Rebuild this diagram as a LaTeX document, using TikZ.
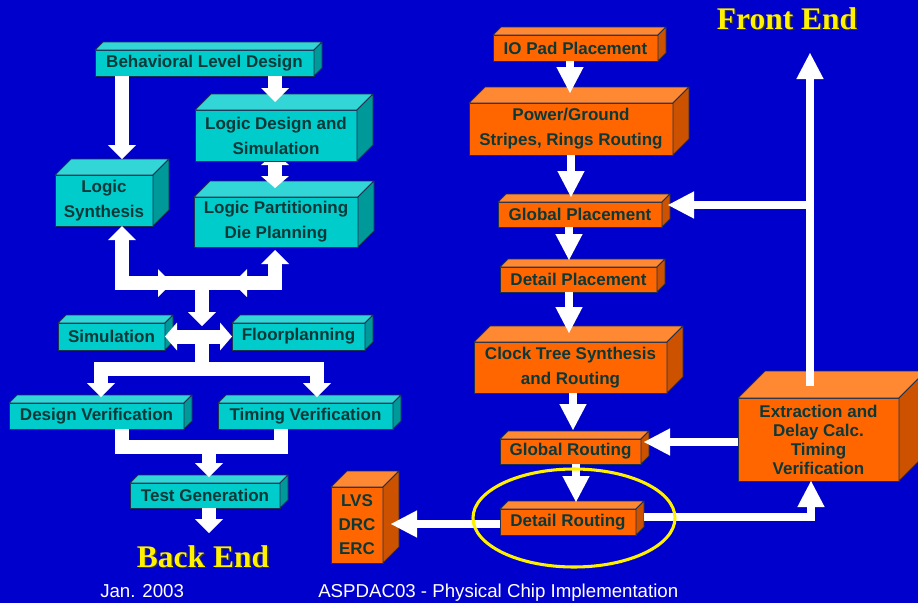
\documentclass[tikz,border=0pt]{standalone}
\usepackage{fontspec}
\setmainfont{Liberation Sans}
\newfontfamily\timesbf{Liberation Serif}
\usetikzlibrary{arrows.meta}
\definecolor{bg}{HTML}{0000CC}
\definecolor{cfront}{HTML}{00CCCC}
\definecolor{ctop}{HTML}{33D6D6}
\definecolor{cside}{HTML}{009999}
\definecolor{ofront}{HTML}{FF6600}
\definecolor{otop}{HTML}{FF8833}
\definecolor{oside}{HTML}{CC5200}
\definecolor{boxtext}{HTML}{0C3838}
\definecolor{edge}{HTML}{1E3050}
\tikzset{
  boxnode/.style={draw=edge, line width=0.6pt, inner sep=0pt, outer sep=0pt, align=center,
    text=boxtext, font=\bfseries\fontsize{12.75}{18.75}\selectfont},
  face/.style={draw=edge, line width=0.6pt, line join=round},
  lline/.style={draw=white, line width=10.5pt, line join=miter},
  larr/.style={lline, -{Triangle[width=21pt,length=10.5pt,line width=0pt]}},
  ldarr/.style={lline, {Triangle[width=21pt,length=9pt,line width=0pt]}-{Triangle[width=21pt,length=9pt,line width=0pt]}},
  rarr/.style={draw=white, line width=5.6pt, line join=miter, -{Triangle[width=20.5pt,length=19.5pt,line width=0pt]}},
  title/.style={font=\timesbf\bfseries\fontsize{23.6}{28}\selectfont, anchor=base},
  foot/.style={font=\fontsize{14}{16}\selectfont, text=white, anchor=base west, inner sep=0pt}
}
% #1 options, #2 name, #3 top-left, #4 width, #5 height, #6 depth, #7 scheme (c/o), #8 text
\newcommand\cubox[8][]{%
  \node[boxnode, fill=#7front, minimum width=#4*0.75pt, minimum height=#5*0.75pt, anchor=north west, #1] (#2) at (#3) {#8};
  \filldraw[face, fill=#7top] (#2.north west) -- ++(#6,-#6) -- ++(#4,0) -- (#2.north east) -- cycle;
  \filldraw[face, fill=#7side] (#2.north east) -- ++(#6,-#6) -- ++(0,#5) -- (#2.south east) -- cycle;
}
\begin{document}
\begin{tikzpicture}[x=0.75pt,y=-0.75pt]
\fill[bg] (0,0) rectangle (918,603);
\useasboundingbox (0,0) rectangle (918,603);

% ---- left (front end) boxes
\cubox{beh}{95,50}{219}{26}{8}{c}{Behavioral Level Design}
\cubox{lpart}{194,197}{164}{50}{16}{c}{Logic Partitioning\\Die Planning}
\coordinate (ldsb) at (275,153);
\draw[ldarr] (ldsb) -- (275,188);
\cubox{lds}{195,110}{162}{51}{16}{c}{Logic Design and\\Simulation}
\cubox{lsyn}{55,175}{98}{51}{16}{c}{Logic\\Synthesis}
\cubox{sim}{58,323}{107}{27}{8}{c}{Simulation}
\cubox{flp}{232,323}{133}{27}{8}{c}{Floorplanning}
\cubox{dver}{9,403}{175}{26}{8}{c}{Design Verification}
\cubox{tver}{218,403}{175}{26}{8}{c}{Timing Verification}
\cubox{tgen}{130,483}{150}{25}{8}{c}{Test Generation}

% ---- right (back end) boxes
\cubox{io}{493,35}{165}{26}{8}{o}{IO Pad Placement}
\cubox{pg}{469,103}{204}{52}{16}{o}{Power/Ground\\Stripes, Rings Routing}
\cubox{gp}{498,202}{164}{25}{8}{o}{Global Placement}
\cubox{dp}{500,267}{157}{25}{8}{o}{Detail Placement}
\cubox{cts}{474,342}{193}{51}{16}{o}{Clock Tree Synthesis\\and Routing}
\cubox{gr}{500,439}{141}{25}{8}{o}{Global Routing}
\cubox{dr}{500,509}{136}{26}{8}{o}{Detail Routing}
\cubox[font=\bfseries\fontsize{12.75}{18}\selectfont]{lvs}{331,487}{52}{76}{16}{o}{LVS\\DRC\\ERC}
\cubox[font=\bfseries\fontsize{12.75}{14.25}\selectfont]{ext}{738,398}{161}{83}{27}{o}{Extraction and\\Delay Calc.\\Timing\\Verification}

% ---- left arrows
\draw[larr] (275,0 |- beh.south) -- (275,102);
\draw[larr] (122,0 |- beh.south) -- (122,159);
\coordinate (bl) at (122,283);
\coordinate (br) at (275,283);
\coordinate (bc) at (202,283);
\draw[larr] (bc) -- (bl) -- (122,0 |- lsyn.south);
\draw[larr] (bc) -- (br) -- (275,250);
\draw[larr] (bl) -- (172,283);
\draw[larr] (br) -- (233,283);
\draw[larr] (bc) -- (202,326);
\coordinate (jc) at (202,336);
\coordinate (jd) at (202,369);
\draw[lline] (jc) -- (jd);
\draw[ldarr] (sim.east) -- (flp.west);
\draw[larr] (jd) -- (101,369) -- (101,397);
\draw[larr] (jd) -- (317,369) -- (317,397);
\draw[lline] (122,0 |- dver.south) -- (122,447) -- (281,447) -- (281,0 |- tver.south);
\draw[larr] (209,447) -- (209,477);
\draw[larr] (209,0 |- tgen.south) -- (209,533);

% ---- right arrows
\draw[rarr] (570,0 |- io.south) -- (570,93);
\draw[rarr] (571,0 |- pg.south) -- (571,197);
\draw[rarr] (569,0 |- gp.south) -- (569,260);
\draw[rarr] (569,0 |- dp.south) -- (569,333);
\draw[rarr] (573,0 |- cts.south) -- (573,430);
\draw[rarr] (576,0 |- gr.south) -- (576,502);
\draw[rarr] ([shift={(0,2)}]dr.west) -- (391,524);
\draw[rarr] ([shift={(8,-5)}]dr.east) -- (811,517) -- (811,0 |- ext.south);
\draw[rarr] (ext.west |- 0,442) -- (644,442);
\coordinate (up) at (810,205);
\draw[rarr] (810,386) -- (810,53);
\draw[rarr] (up) -- (668,205);

% ---- highlight
\draw[yellow, line width=2.3pt] (574,518) ellipse [x radius=101, y radius=49];

% ---- titles
\node[title, text=black!80] (fes) at (788.5,30.5) {Front End};
\node[title, text=yellow] (fe) at (787,29) {Front End};
\node[title, text=black!80] (bes) at (204.5,568.5) {Back End};
\node[title, text=yellow] (be) at (203,567) {Back End};

% ---- footer
\node[foot] (date) at (100,597) {Jan. 2003};
\node[foot] (conf) at (318,597) {ASPDAC03 - Physical Chip Implementation};
\end{tikzpicture}
\end{document}
